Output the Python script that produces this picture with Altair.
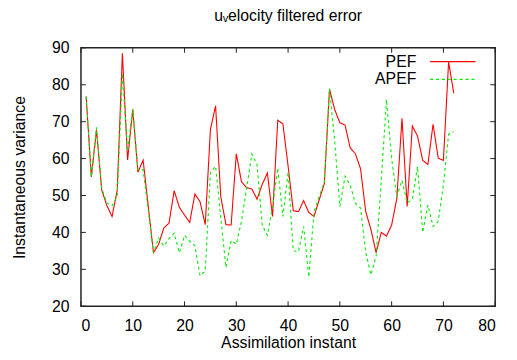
import altair as alt
import pandas as pd

instants = list(range(1, 73))
pef = [76.8, 55.0, 67.8, 51.5, 47.3, 44.3, 51.4, 88.5, 59.6, 73.3,
       56.3, 59.6, 47.0, 34.5, 36.8, 41.2, 42.5, 51.3, 46.8, 44.7,
       42.7, 50.4, 48.3, 42.1, 67.9, 74.3, 49.7, 42.1, 42.0, 61.3,
       53.7, 52.1, 51.8, 49.0, 53.0, 56.1, 44.3, 70.4, 69.4, 58.0,
       45.9, 45.6, 48.6, 45.4, 44.3, 48.8, 53.2, 78.8, 73.3, 69.7,
       69.1, 62.9, 61.3, 57.2, 45.6, 40.8, 34.5, 40.0, 39.0, 42.0,
       49.2, 70.9, 47.0, 68.8, 66.1, 59.5, 58.4, 69.3, 60.1, 59.5,
       86.2, 77.7]
apef = [76.8, 55.0, 68.5, 52.0, 48.0, 47.2, 49.7, 83.0, 62.0, 73.5,
        57.0, 57.0, 46.0, 34.5, 38.5, 36.3, 38.3, 39.8, 34.5, 39.2,
        37.6, 36.4, 28.3, 29.5, 56.3, 57.9, 44.0, 30.5, 37.8, 36.8,
        43.0, 52.0, 61.3, 58.4, 42.0, 39.2, 47.0, 57.4, 44.3, 56.3,
        35.0, 34.8, 41.6, 27.9, 45.5, 49.7, 53.7, 79.0, 64.8, 47.0,
        55.2, 52.8, 47.9, 46.6, 34.5, 28.5, 33.6, 54.1, 76.0, 60.0,
        49.7, 54.1, 48.0, 49.0, 57.9, 40.0, 47.4, 41.6, 43.0, 52.8,
        66.6, 67.3]
series_names = ["PEF", "APEF"]
series_colors = ["#ff0000", "#00ee00"]
series_dashes = [[1, 0], [3, 3]]
x_ticks = [0, 10, 20, 30, 40, 50, 60, 70, 80]
y_ticks = [20, 30, 40, 50, 60, 70, 80, 90]

df = pd.DataFrame({
    "instant": instants + instants,
    "value": pef + apef,
    "series": [series_names[0]] * len(pef) + [series_names[1]] * len(apef),
})

W, H = 420, 262
FONT = "Liberation Sans"
xs = alt.Scale(domain=[0, 80], nice=False, zero=False)
ys = alt.Scale(domain=[20, 90], nice=False, zero=False)
XT = "Assimilation instant"
YT = "Instantaneous variance"
x_axis = alt.Axis(values=x_ticks, tickCount=len(x_ticks), ticks=False, domain=False, grid=False,
                  labelOverlap=False, labelPadding=12, titlePadding=1)
y_axis = alt.Axis(values=y_ticks, tickCount=len(y_ticks), ticks=False, domain=False, grid=False,
                  labelOverlap=False, labelPadding=12, titlePadding=24)

lines = alt.Chart(df).mark_line(strokeWidth=1.1, clip=True).encode(
    x=alt.X("instant:Q", scale=xs, title=XT, axis=x_axis),
    y=alt.Y("value:Q", scale=ys, title=YT, axis=y_axis),
    color=alt.Color("series:N", scale=alt.Scale(domain=series_names, range=series_colors), legend=None),
    strokeDash=alt.StrokeDash("series:N", scale=alt.Scale(domain=series_names, range=series_dashes), legend=None),
)

xt = pd.DataFrame({"t": x_ticks})
yt = pd.DataFrame({"t": y_ticks})
tick_color = "#222222"
bt = alt.Chart(xt).mark_rule(color=tick_color, strokeWidth=1).encode(
    x=alt.X("t:Q", scale=xs, title=XT, axis=x_axis), y=alt.value(H), y2=alt.value(H - 5))
tt = alt.Chart(xt).mark_rule(color=tick_color, strokeWidth=1).encode(
    x=alt.X("t:Q", scale=xs, title=XT, axis=x_axis), y=alt.value(0), y2=alt.value(5))
lt = alt.Chart(yt).mark_rule(color=tick_color, strokeWidth=1).encode(
    y=alt.Y("t:Q", scale=ys, title=YT, axis=y_axis), x=alt.value(0), x2=alt.value(5))
rt = alt.Chart(yt).mark_rule(color=tick_color, strokeWidth=1).encode(
    y=alt.Y("t:Q", scale=ys, title=YT, axis=y_axis), x=alt.value(W), x2=alt.value(W - 5))

legend_layers = []
for i, name in enumerate(series_names):
    ly = 14 + 18 * i
    ld = pd.DataFrame({"label": [name]})
    legend_layers.append(
        alt.Chart(ld).mark_text(align="right", baseline="middle", fontSize=16, font=FONT, color="black").encode(
            text="label:N", x=alt.value(340), y=alt.value(ly)))
    legend_layers.append(
        alt.Chart(ld).mark_rule(color=series_colors[i], strokeDash=series_dashes[i], strokeWidth=1.1).encode(
            x=alt.value(354), x2=alt.value(400), y=alt.value(ly)))

chart = alt.layer(lines, bt, tt, lt, rt, *legend_layers).properties(
    width=W, height=H,
    title=alt.TitleParams("u\u1d65elocity filtered error", fontSize=16, fontWeight="normal",
                          font=FONT, color="black", offset=16, anchor="middle"),
    autosize=alt.AutoSizeParams(type="none"),
    padding={"left": 74, "top": 38, "right": 14, "bottom": 44},
).configure_view(
    stroke="#222222", strokeWidth=1.5
).configure_axis(
    labelFont=FONT, labelFontSize=16, labelColor="black",
    titleFont=FONT, titleFontSize=16, titleFontWeight="normal", titleColor="black",
)

chart.save("out.html", embed_options={"renderer": "svg", "actions": False})
